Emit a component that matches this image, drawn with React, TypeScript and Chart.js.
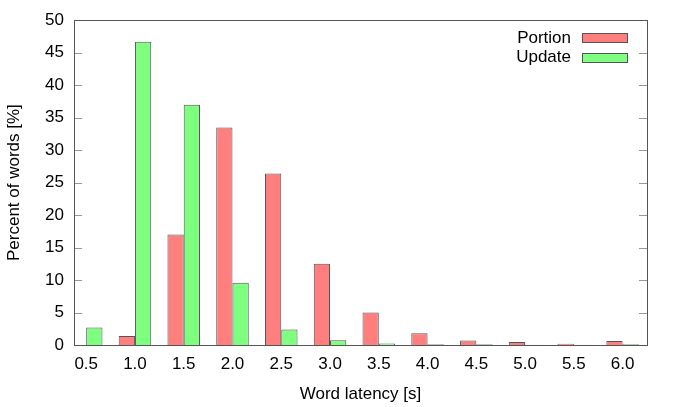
import React, { useEffect, useRef } from "react";
import { Chart, registerables } from "chart.js";

Chart.register(...registerables);

const categories = ["0.5", "1.0", "1.5", "2.0", "2.5", "3.0", "3.5", "4.0", "4.5", "5.0", "5.5", "6.0"];
const portion = [0, 1.4, 17.0, 33.5, 26.4, 12.5, 5.0, 1.8, 0.7, 0.45, 0.2, 0.6];
const update = [2.7, 46.7, 37.0, 9.6, 2.4, 0.75, 0.25, 0.1, 0.1, 0.05, 0.05, 0.1];
const yTicks = [0, 5, 10, 15, 20, 25, 30, 35, 40, 45, 50];

const FONT = "'Liberation Sans', Arial, sans-serif";
const FS = 17;

const framePlugin = {
  id: "frame",
  afterDatasetsDraw(chart: any) {
    const { ctx, chartArea } = chart;
    const { left, right, top, bottom } = chartArea;
    const ys = chart.scales.y;
    ctx.save();
    ctx.strokeStyle = "#999999";
    ctx.lineWidth = 1;
    ctx.beginPath();
    yTicks.forEach((v) => {
      const y = Math.round(ys.getPixelForValue(v)) + 0.5;
      ctx.moveTo(left, y);
      ctx.lineTo(left + 8, y);
      ctx.moveTo(right - 8, y);
      ctx.lineTo(right, y);
    });
    ctx.stroke();
    ctx.strokeStyle = "#555555";
    ctx.strokeRect(Math.round(left) + 0.5, Math.round(top) + 0.5, Math.round(right - left), Math.round(bottom - top));
    // legend
    ctx.font = FS + "px " + FONT;
    ctx.fillStyle = "#000";
    ctx.textAlign = "right";
    ctx.textBaseline = "middle";
    chart.data.datasets.forEach((ds: any, i: number) => {
      const cy = 38 + i * 19.5;
      ctx.fillText(ds.label, 571, cy);
      ctx.fillStyle = ds.backgroundColor;
      ctx.fillRect(582, Math.round(cy - 5), 46, 10);
      ctx.strokeStyle = "#555555";
      ctx.strokeRect(582.5, Math.round(cy - 5) + 0.5, 45, 9);
      ctx.fillStyle = "#000";
    });
    ctx.restore();
  },
};

export default function App() {
  const ref = useRef<HTMLCanvasElement>(null);
  useEffect(() => {
    if (!ref.current) return;
    const chart = new Chart(ref.current, {
      type: "bar",
      data: {
        datasets: [
          {
            label: "Portion",
            data: portion.map((v, i) => ({ x: i, y: v })),
            backgroundColor: "#ff7f7f",
            borderColor: "#555555",
            borderWidth: 1,
            categoryPercentage: 0.667,
            barPercentage: 1,
          },
          {
            label: "Update",
            data: update.map((v, i) => ({ x: i, y: v })),
            backgroundColor: "#7fff7f",
            borderColor: "#555555",
            borderWidth: 1,
            categoryPercentage: 0.667,
            barPercentage: 1,
          },
        ],
      },
      options: {
        animation: false,
        responsive: false,
        maintainAspectRatio: false,
        layout: { padding: { top: 20, right: 29, left: 0, bottom: 0 } },
        plugins: { legend: { display: false }, tooltip: { enabled: false } },
        scales: {
          x: {
            type: "linear",
            offset: false,
            min: -0.25,
            max: 11.5,
            grid: { display: false, drawTicks: false, tickLength: 0 },
            border: { display: false },
            afterFit: (s: any) => { s.height = 62; },
            afterBuildTicks: (s: any) => { s.ticks = categories.map((_, i) => ({ value: i })); },
            ticks: {
              autoSkip: false,
              maxRotation: 0,
              padding: 9,
              color: "#000",
              font: { family: FONT, size: FS },
              callback: (v: any) => categories[v as number] ?? "",
            },
            title: {
              display: true,
              text: "Word latency [s]",
              color: "#000",
              font: { family: FONT, size: FS },
              padding: { top: 0, bottom: 2 },
            },
          },
          y: {
            min: 0,
            max: 50,
            grid: { display: false, drawTicks: false, tickLength: 0 },
            border: { display: false },
            afterFit: (s: any) => { s.width = 74; },
            afterBuildTicks: (s: any) => { s.ticks = yTicks.map((v) => ({ value: v })); },
            ticks: {
              padding: 10,
              color: "#000",
              font: { family: FONT, size: FS },
            },
            title: {
              display: true,
              text: "Percent of words [%]",
              color: "#000",
              font: { family: FONT, size: FS },
              padding: { top: 4, bottom: 0 },
            },
          },
        },
      },
      plugins: [framePlugin],
    } as any);
    return () => chart.destroy();
  }, []);
  return (
    <div style={{ position: "absolute", left: 0, top: 0, width: 676, height: 407 }}>
      <canvas ref={ref} width={676} height={407} style={{ width: 676, height: 407, display: "block" }} />
    </div>
  );
}
